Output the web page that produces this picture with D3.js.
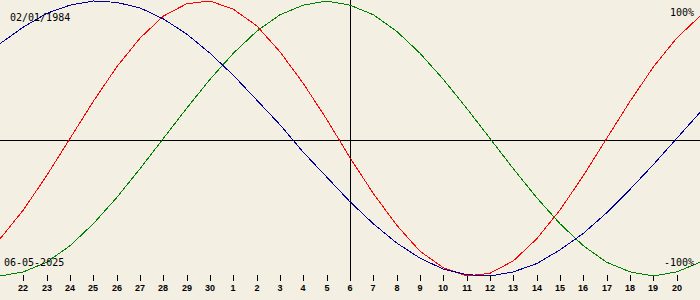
<!DOCTYPE html>
<html>
<head>
<meta charset="utf-8">
<script src="https://cdn.jsdelivr.net/npm/d3@7"></script>
<style>
  html, body { margin: 0; padding: 0; background: #f3efe3; }
  svg { display: block; }
</style>
</head>
<body>
<svg id="chart"></svg>
<script>
// day labels, 22 April .. 20 May 2025 (centre = 6)
var dayLabels = [22, 23, 24, 25, 26, 27, 28, 29, 30, 1, 2, 3, 4, 5, 6, 7, 8, 9, 10, 11, 12, 13, 14, 15, 16, 17, 18, 19, 20];
// day offsets -15 .. +15 around the target date
var dayOffsets = d3.range(-15, 16);
var physical = [-0.73, -0.52, -0.27, 0, 0.27, 0.52, 0.73, 0.89, 0.98, 1.00, 0.94, 0.82, 0.63, 0.40, 0.14, -0.14,
                -0.40, -0.63, -0.82, -0.94, -1.00, -0.98, -0.89, -0.73, -0.52, -0.27, 0, 0.27, 0.52, 0.73, 0.89];
var emotional = [-1.00, -0.97, -0.90, -0.78, -0.62, -0.43, -0.22, 0, 0.22, 0.43, 0.62, 0.78, 0.90, 0.97, 1.00, 0.97,
                 0.90, 0.78, 0.62, 0.43, 0.22, 0, -0.22, -0.43, -0.62, -0.78, -0.90, -0.97, -1.00, -0.97, -0.90];
var intellectual = [0.69, 0.81, 0.91, 0.97, 1.00, 0.99, 0.95, 0.87, 0.76, 0.62, 0.46, 0.28, 0.10, -0.10, -0.28, -0.46,
                    -0.62, -0.76, -0.87, -0.95, -0.99, -1.00, -0.97, -0.91, -0.81, -0.69, -0.54, -0.37, -0.19, 0, 0.19];
var birthDate = "02/01/1984";
var targetDate = "06-05-2025";

const width = 700;
const height = 300;
const midY = 140;

const svg = d3.select("#chart").attr("width", width).attr("height", height);
svg.append("rect").attr("width", width).attr("height", height).attr("fill", "#f3efe3");

const x = d3.scaleLinear().domain([-15, 15]).range([0, width]);
const y = d3.scaleLinear().domain([-1, 1]).range([276, 1]);

// cross hair
svg.append("line")
    .attr("x1", 0).attr("x2", width)
    .attr("y1", midY + 0.5).attr("y2", midY + 0.5)
    .attr("stroke", "#000");
svg.append("line")
    .attr("x1", x(0) + 0.5).attr("x2", x(0) + 0.5)
    .attr("y1", 0).attr("y2", 281)
    .attr("stroke", "#000");

// day axis
const tickDays = d3.range(-14, 15);
const axis = svg.append("g").attr("class", "xaxis");
axis.selectAll("line").data(tickDays).enter().append("line")
    .attr("x1", d => Math.round(x(d)) + 0.5)
    .attr("x2", d => Math.round(x(d)) + 0.5)
    .attr("y1", 275).attr("y2", 281)
    .attr("stroke", "#000");
axis.selectAll("text").data(tickDays).enter().append("text")
    .attr("x", d => Math.round(x(d)))
    .attr("y", 291)
    .attr("text-anchor", "middle")
    .attr("font-family", "Liberation Sans, Arial, sans-serif")
    .attr("font-weight", "bold")
    .attr("font-size", "9px")
    .attr("fill", "#000")
    .text((d, i) => dayLabels[i]);

// curves
const line = d3.line()
    .x((d, i) => x(dayOffsets[i]))
    .y(d => y(d));
const series = [
    { values: physical, color: "#ff0000" },
    { values: emotional, color: "#008000" },
    { values: intellectual, color: "#000099" }
];
svg.selectAll("path.curve").data(series).enter().append("path")
    .attr("class", "curve")
    .attr("d", s => line(s.values))
    .attr("fill", "none")
    .attr("stroke", s => s.color)
    .attr("stroke-width", 1)
    .attr("shape-rendering", "crispEdges");

// labels
const labelFont = "DejaVu Sans Mono, Liberation Mono, monospace";
function label(txt, lx, ly, anchor) {
    svg.append("text")
        .attr("x", lx).attr("y", ly)
        .attr("text-anchor", anchor)
        .attr("font-family", labelFont)
        .attr("font-size", "10px")
        .attr("fill", "#000")
        .text(txt);
}
label(birthDate, 10, 21, "start");
label(targetDate, 4, 266, "start");
label("100%", 694, 16, "end");
label("-100%", 694, 266, "end");
</script>
</body>
</html>
